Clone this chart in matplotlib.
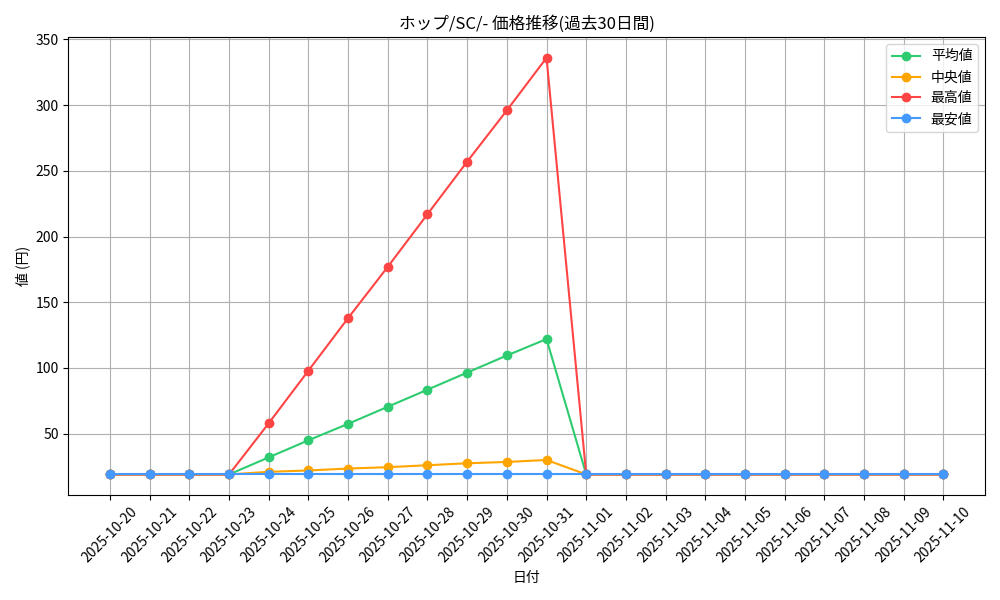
import matplotlib
matplotlib.use("Agg")
import matplotlib.pyplot as plt

plt.rcParams['font.family'] = ['Noto Sans CJK JP', 'DejaVu Sans']

dates = ["2025-10-20","2025-10-21","2025-10-22","2025-10-23","2025-10-24","2025-10-25","2025-10-26",
         "2025-10-27","2025-10-28","2025-10-29","2025-10-30","2025-10-31","2025-11-01","2025-11-02",
         "2025-11-03","2025-11-04","2025-11-05","2025-11-06","2025-11-07","2025-11-08","2025-11-09","2025-11-10"]
avg = [19,19,19,19,32,45,57.5,70.5,83.5,96.5,109.5,122,19,19,19,19,19,19,19,19,19,19]
med = [19,19,19,19,21,22,23.5,24.5,26,27.5,28.5,30,19,19,19,19,19,19,19,19,19,19]
mx = [19,19,19,19,58,98,138,177,217,257,296,336,19,19,19,19,19,19,19,19,19,19]
mn = [19]*22

fig, ax = plt.subplots(figsize=(10, 6), dpi=100)
ax.plot(dates, avg, marker='o', color='#2ecc71', label='平均値')
ax.plot(dates, med, marker='o', color='#ffa500', label='中央値')
ax.plot(dates, mx, marker='o', color='#ff4444', label='最高値')
ax.plot(dates, mn, marker='o', color='#4499ff', label='最安値')
ax.set_title('ホップ/SC/- 価格推移(過去30日間)')
ax.set_xlabel('日付')
ax.set_ylabel('値 (円)')
ax.grid(True)
ax.legend(loc='upper right')
plt.setp(ax.get_xticklabels(), rotation=45)
fig.tight_layout()
fig.savefig('out.png')
